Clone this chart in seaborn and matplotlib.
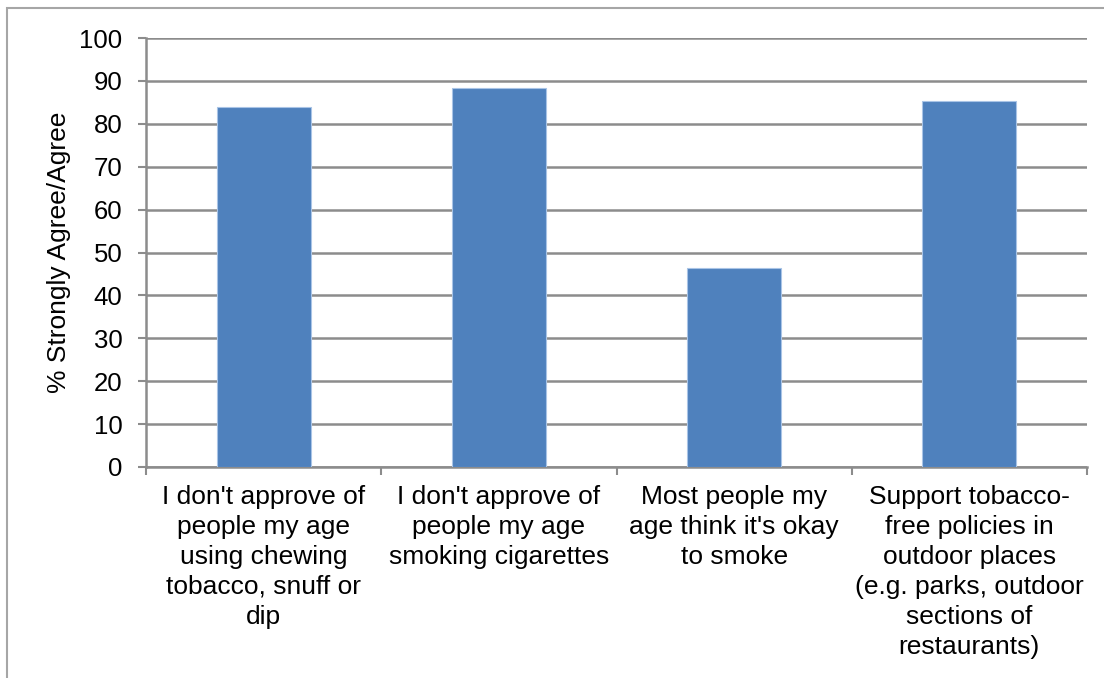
import matplotlib
matplotlib.use("Agg")
import matplotlib.pyplot as plt
from matplotlib.patches import Rectangle
from matplotlib.ticker import FixedLocator
import seaborn as sns

categories = [
    "I don't approve of\npeople my age\nusing chewing\ntobacco, snuff or\ndip",
    "I don't approve of\npeople my age\nsmoking cigarettes",
    "Most people my\nage think it's okay\nto smoke",
    "Support tobacco-\nfree policies in\noutdoor places\n(e.g. parks, outdoor\nsections of\nrestaurants)",
]
values = [83.9, 88.3, 46.5, 85.2]
y_ticks = [0, 10, 20, 30, 40, 50, 60, 70, 80, 90, 100]

sns.set_theme(style="white")
plt.rcParams["font.family"] = ["Liberation Sans", "DejaVu Sans"]

grid_color = "#8c8c8c"
bar_color = "#4f81bd"

fig = plt.figure(figsize=(11.04, 6.78), dpi=100)
ax = fig.add_axes([146 / 1104, 1 - 467 / 678, (1087 - 146) / 1104, (467 - 38) / 678])

# outer chart frame
fig.patches.append(Rectangle((7 / 1104, -0.1), 1.2, 1 - 8 / 678 + 0.1,
                             transform=fig.transFigure, fill=False,
                             edgecolor="#a6a6a6", linewidth=1.5, zorder=0))

sns.barplot(x=categories, y=values, color=bar_color, width=0.4,
            edgecolor="#a9c4e6", linewidth=0.8, saturation=1, ax=ax, zorder=3)

ax.set_ylim(0, 100)
ax.set_xlim(-0.5, 3.5)
ax.set_yticks(y_ticks)
ax.yaxis.grid(True, color=grid_color, linewidth=1.8, zorder=0)
ax.set_axisbelow(True)

for side in ["top", "right"]:
    ax.spines[side].set_visible(False)
for side in ["left", "bottom"]:
    ax.spines[side].set_color(grid_color)
    ax.spines[side].set_linewidth(1.8)

ax.tick_params(axis="y", which="major", left=True, length=6, width=1.5,
               color=grid_color, pad=11, labelsize=18.5, labelcolor="black")
ax.tick_params(axis="x", which="major", bottom=False, length=0, pad=13,
               labelsize=19, labelcolor="black")
ax.xaxis.set_minor_locator(FixedLocator([-0.5, 0.5, 1.5, 2.5, 3.5]))
ax.tick_params(axis="x", which="minor", bottom=True, length=6, width=1.5,
               color=grid_color)
for lbl in ax.get_xticklabels():
    lbl.set_linespacing(1.31)
    lbl.set_verticalalignment("top")

ax.set_ylabel("% Strongly Agree/Agree", fontsize=19, color="black", labelpad=6)
ax.set_xlabel("")

fig.savefig("out.png", dpi=100)
